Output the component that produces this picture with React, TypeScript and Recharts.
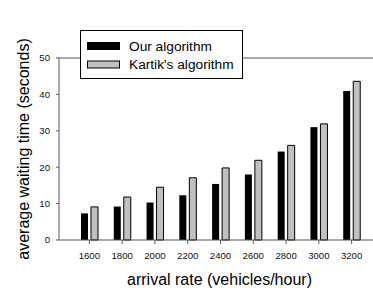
import { BarChart, Bar, XAxis, YAxis, ReferenceLine, Legend } from "recharts";

const rates = ["1600", "1800", "2000", "2200", "2400", "2600", "2800", "3000", "3200"];
const ourAlgorithm = [7.3, 9.2, 10.3, 12.3, 15.4, 18.0, 24.3, 31.0, 40.9];
const kartikAlgorithm = [9.1, 11.8, 14.5, 17.1, 19.8, 21.9, 26.0, 31.9, 43.6];
const yTicks = [0, 10, 20, 30, 40, 50];
const seriesOrder = ["our", "kartik"];

const data = rates.map((r, i) => ({
  rate: r,
  our: ourAlgorithm[i],
  kartik: kartikAlgorithm[i],
}));

const FONT = "'Liberation Sans', Arial, sans-serif";
const AXIS = "#555";

function LegendBox({ payload }: any) {
  const items = [...(payload ?? [])].sort(
    (a: any, b: any) => seriesOrder.indexOf(a.dataKey) - seriesOrder.indexOf(b.dataKey)
  );
  return (
    <svg width={163} height={49} style={{ display: "block" }}>
      <rect x={0.5} y={0.5} width={162} height={48} fill="#fff" stroke="#000" />
      {items.map((it: any, i: number) => {
        const cy = 16 + i * 18.5;
        return (
          <g key={it.value}>
            <rect
              x={7.5}
              y={cy - 3.5}
              width={32}
              height={7}
              fill={it.color}
              stroke="#000"
              strokeWidth={1}
            />
            <text
              x={49}
              y={cy}
              dy="0.35em"
              fontSize={13.7}
              fontFamily={FONT}
              fill="#000"
            >
              {it.value}
            </text>
          </g>
        );
      })}
    </svg>
  );
}

export default function App() {
  return (
    <div
      style={{
        position: "absolute",
        left: 0,
        top: 0,
        width: 373,
        height: 291,
        overflow: "hidden",
        background: "#fff",
      }}
    >
      <BarChart
        width={382}
        height={291}
        data={data}
        margin={{ top: 9, right: 0, bottom: 0, left: 0 }}
        barSize={7}
        barGap={3}
      >
        <XAxis
          dataKey="rate"
          height={51}
          padding={{ left: 14, right: 14 }}
          stroke={AXIS}
          tickSize={4}
          tickMargin={8}
          tick={{ fontSize: 9.6, fontFamily: FONT, fill: "#111" }}
          label={{
            content: ({ viewBox }: any) => (
              <text
                x={viewBox.x + viewBox.width / 2 - 1}
                y={viewBox.y + 45}
                textAnchor="middle"
                fontSize={16}
                fontFamily={FONT}
                fill="#000"
              >
                arrival rate (vehicles/hour)
              </text>
            ),
          }}
        />
        <YAxis
          width={59}
          domain={[0, 50]}
          ticks={yTicks}
          interval={0}
          stroke={AXIS}
          tickSize={3}
          tickMargin={6}
          tick={{ fontSize: 9.6, fontFamily: FONT, fill: "#111" }}
          label={{
            content: ({ viewBox }: any) => {
              const cx = 23;
              const cy = viewBox.y + viewBox.height / 2;
              return (
                <text
                  x={cx}
                  y={cy}
                  transform={`rotate(-90 ${cx} ${cy})`}
                  textAnchor="middle"
                  dy="0.35em"
                  fontSize={16}
                  fontFamily={FONT}
                  fill="#000"
                >
                  average waiting time (seconds)
                </text>
              );
            },
          }}
        />
        <ReferenceLine y={50} stroke={AXIS} />
        <Legend
          verticalAlign="top"
          align="left"
          content={<LegendBox />}
          wrapperStyle={{ position: "absolute", left: 80, top: 30, width: 163 }}
        />
        <Bar
          dataKey="our"
          name="Our algorithm"
          fill="#000"
          isAnimationActive={false}
        />
        <Bar
          dataKey="kartik"
          name="Kartik's algorithm"
          fill="#c0c0c0"
          stroke="#000"
          strokeWidth={1}
          isAnimationActive={false}
        />
      </BarChart>
    </div>
  );
}
